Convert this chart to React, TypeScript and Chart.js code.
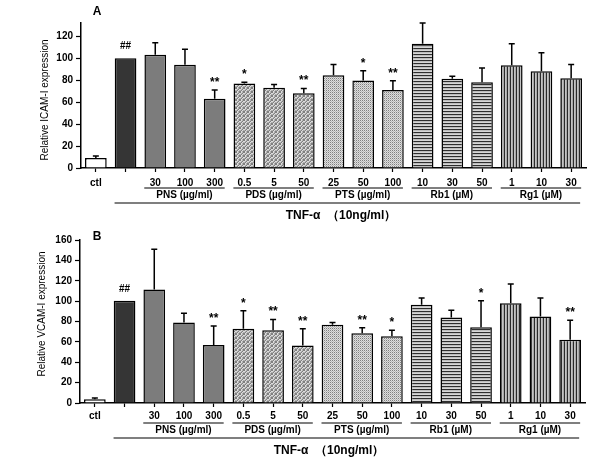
import React, { useEffect, useRef } from 'react';
import { Chart, registerables } from 'chart.js';

Chart.register(...registerables);

// ---------- data ----------
const doseLabels = ['ctl', '', '30', '100', '300', '0.5', '5', '50', '25', '50', '100', '10', '30', '50', '1', '10', '30'];
const barStyles = ['ctl', 'tnf', 'pns', 'pns', 'pns', 'pds', 'pds', 'pds', 'pts', 'pts', 'pts', 'rb1', 'rb1', 'rb1', 'rg1', 'rg1', 'rg1'];
const groupNames = ['PNS (µg/ml)', 'PDS (µg/ml)', 'PTS (µg/ml)', 'Rb1 (µM)', 'Rg1 (µM)'];
const groupFirst = [2, 5, 8, 11, 14];
const groupLast = [4, 7, 10, 13, 16];
const treatmentLabel = 'TNF-α  （10ng/ml）';

const icamMeans = [9, 100, 103, 94, 63, 77, 73, 68, 84.5, 79.7, 70.9, 113, 81.2, 78, 93.6, 88, 81.8];
const icamSd = [2, 0, 11, 14, 8, 1, 3, 4.4, 9.8, 8.8, 8.5, 19, 2.4, 13, 19.4, 17, 12.5];
const icamMarks = ['', '##', '', '', '**', '*', '', '**', '', '*', '**', '', '', '', '', '', ''];
const icamTicks = [0, 20, 40, 60, 80, 100, 120];

const vcamMeans = [3.6, 100.3, 111.5, 79, 57, 73, 71.5, 56.4, 76.7, 68.5, 65.6, 96.4, 84, 74.4, 98, 85, 62];
const vcamSd = [1.3, 0, 39.3, 9, 18.7, 17.5, 10.5, 16.6, 2.3, 5.3, 5.9, 6.6, 7, 25.9, 18.7, 18, 19.3];
const vcamMarks = ['', '##', '', '', '**', '*', '**', '**', '', '**', '*', '', '', '*', '', '', '**'];
const vcamTicks = [0, 20, 40, 60, 80, 100, 120, 140, 160];

const FONT = "Arial, 'Liberation Sans', sans-serif";

function makePattern(w: number, h: number, pixels: string[][]): CanvasPattern | string {
  const c = document.createElement('canvas');
  c.width = w;
  c.height = h;
  const g = c.getContext('2d');
  if (!g) return '#aaa';
  for (let yy = 0; yy < h; yy++) {
    for (let xx = 0; xx < w; xx++) {
      g.fillStyle = pixels[yy][xx];
      g.fillRect(xx, yy, 1, 1);
    }
  }
  return g.createPattern(c, 'repeat') || '#aaa';
}

function buildFills() {
  const L = '#dedede';
  const D = '#808080';
  const pds = makePattern(4, 4, [
    [D, L, '#b0b0b0', D],
    [L, '#b0b0b0', D, L],
    ['#b0b0b0', D, L, '#b0b0b0'],
    [D, L, '#b0b0b0', D],
  ]);
  const pts = makePattern(2, 2, [
    [D, L],
    [L, '#b8b8b8'],
  ]);
  const rb1 = makePattern(1, 3, [['#2e2e2e'], ['#bdbdbd'], ['#d6d6d6']]);
  const rg1 = makePattern(3, 1, [['#2a2a2a', '#c4c4c4', '#a8a8a8']]);
  const map: Record<string, any> = {
    ctl: '#ffffff',
    tnf: '#353535',
    pns: '#7c7c7c',
    pds,
    pts,
    rb1,
    rg1,
  };
  return barStyles.map((s) => map[s]);
}

type Panel = {
  letter: string;
  title: string;
  means: number[];
  sds: number[];
  marks: string[];
  ticks: number[];
  yMax: number;
  top: number;
  height: number;
  axisWidth: number;
  padRight: number;
  tickPad: number;
  titleX: number;
  titleY: number;
  tnfX: number;
};

const panels: Panel[] = [
  {
    letter: 'A', title: 'Relative ICAM-I expression', means: icamMeans, sds: icamSd, marks: icamMarks,
    ticks: icamTicks, yMax: 132, top: 23, height: 230, axisWidth: 81, padRight: 14, tickPad: 5,
    titleX: 45, titleY: 100, tnfX: 341,
  },
  {
    letter: 'B', title: 'Relative VCAM-I expression', means: vcamMeans, sds: vcamSd, marks: vcamMarks,
    ticks: vcamTicks, yMax: 160, top: 10, height: 230, axisWidth: 80, padRight: 15, tickPad: 3,
    titleX: 42, titleY: 84, tnfX: 329,
  },
];

function annotPlugin(p: Panel) {
  return {
    id: 'annot' + p.letter,
    afterDatasetsDraw(chart: any) {
      const ctx = chart.ctx as CanvasRenderingContext2D;
      const xs = chart.scales.x;
      const ys = chart.scales.y;
      const area = chart.chartArea;
      ctx.save();
      ctx.strokeStyle = '#000';
      ctx.fillStyle = '#000';
      ctx.lineWidth = 1.5;
      // error bars
      p.means.forEach((m, i) => {
        const sd = p.sds[i];
        if (!sd) return;
        const cx = xs.getPixelForValue(i);
        const y0 = ys.getPixelForValue(m);
        const y1 = ys.getPixelForValue(m + sd);
        ctx.beginPath();
        ctx.moveTo(cx, y0);
        ctx.lineTo(cx, y1);
        ctx.moveTo(cx - 3, y1);
        ctx.lineTo(cx + 3, y1);
        ctx.stroke();
      });
      // significance marks
      ctx.textAlign = 'center';
      ctx.textBaseline = 'alphabetic';
      p.marks.forEach((mk, i) => {
        if (!mk) return;
        const cx = xs.getPixelForValue(i);
        const topVal = p.means[i] + (p.sds[i] || 0);
        const yTop = ys.getPixelForValue(topVal);
        if (mk.startsWith('#')) {
          ctx.font = `bold 10px ${FONT}`;
          ctx.fillText(mk, cx, yTop - 9);
        } else {
          ctx.font = `bold 12px ${FONT}`;
          ctx.fillText(mk, cx, yTop - 4);
        }
      });
      // group lines and labels
      const b = area.bottom;
      ctx.lineWidth = 1.2;
      ctx.font = `bold 10px ${FONT}`;
      ctx.textBaseline = 'middle';
      groupNames.forEach((g, k) => {
        const x0 = xs.getPixelForValue(groupFirst[k]) - 11;
        const x1 = xs.getPixelForValue(groupLast[k]) + 10;
        ctx.beginPath();
        ctx.moveTo(x0, b + 20);
        ctx.lineTo(x1, b + 20);
        ctx.stroke();
        ctx.fillText(g, (x0 + x1) / 2, b + 27.5);
      });
      // long treatment line
      const lx0 = xs.getPixelForValue(1) - 11;
      const lx1 = xs.getPixelForValue(doseLabels.length - 1) + 9;
      ctx.beginPath();
      ctx.moveTo(lx0, b + 35);
      ctx.lineTo(lx1, b + 35);
      ctx.stroke();
      ctx.font = `bold 12px ${FONT}`;
      ctx.fillText(treatmentLabel, p.tnfX, b + 48);
      // panel letter
      ctx.font = `bold 12px ${FONT}`;
      ctx.fillText(p.letter, 97, p.letter === 'A' ? 12 : 7);
      // y title
      ctx.save();
      ctx.translate(p.titleX, p.titleY);
      ctx.rotate(-Math.PI / 2);
      ctx.font = `10px ${FONT}`;
      ctx.fillText(p.title, 0, 0);
      ctx.restore();
      ctx.restore();
    },
  };
}

function PanelChart({ p }: { p: Panel }) {
  const ref = useRef<HTMLCanvasElement | null>(null);
  useEffect(() => {
    if (!ref.current) return;
    const fills = buildFills();
    const chart = new Chart(ref.current, {
      type: 'bar',
      data: {
        labels: doseLabels,
        datasets: [
          {
            data: p.means,
            backgroundColor: fills as any,
            borderColor: '#000',
            borderWidth: 1.5,
            barPercentage: 0.73,
            categoryPercentage: 1,
          },
        ],
      },
      options: {
        animation: false,
        responsive: false,
        maintainAspectRatio: false,
        layout: { padding: { top: p.top, right: p.padRight, left: 0, bottom: 0 } },
        plugins: { legend: { display: false }, tooltip: { enabled: false } },
        scales: {
          x: {
            grid: { display: true, drawOnChartArea: false, offset: false, tickLength: 4, tickColor: '#000', tickWidth: 1.2 },
            border: { color: '#000', width: 1.5 },
            ticks: { font: { family: FONT, size: 10, weight: 'bold' }, color: '#000', padding: p.tickPad, maxRotation: 0, autoSkip: false },
            afterFit: (s: any) => { s.height = p.height - p.top - (p.letter === 'A' ? 145 : 163); },
          },
          y: {
            min: 0,
            max: p.yMax,
            grid: { display: true, drawOnChartArea: false, tickLength: 5, tickColor: '#000', tickWidth: 1.2 },
            border: { color: '#000', width: 1.5 },
            ticks: { font: { family: FONT, size: 10, weight: 'bold' }, color: '#000', padding: 3 },
            afterBuildTicks: (s: any) => { s.ticks = p.ticks.map((v) => ({ value: v })); },
            afterFit: (s: any) => { s.width = p.axisWidth; },
          },
        },
      } as any,
      plugins: [annotPlugin(p)],
    });
    return () => chart.destroy();
  }, [p]);
  return <canvas ref={ref} width={600} height={p.height} style={{ display: 'block', width: 600, height: p.height }} />;
}

export default function App() {
  return (
    <div style={{ position: 'absolute', left: 0, top: 0, width: 600, height: 460, background: '#fff' }}>
      {panels.map((p) => (
        <PanelChart key={p.letter} p={p} />
      ))}
    </div>
  );
}
